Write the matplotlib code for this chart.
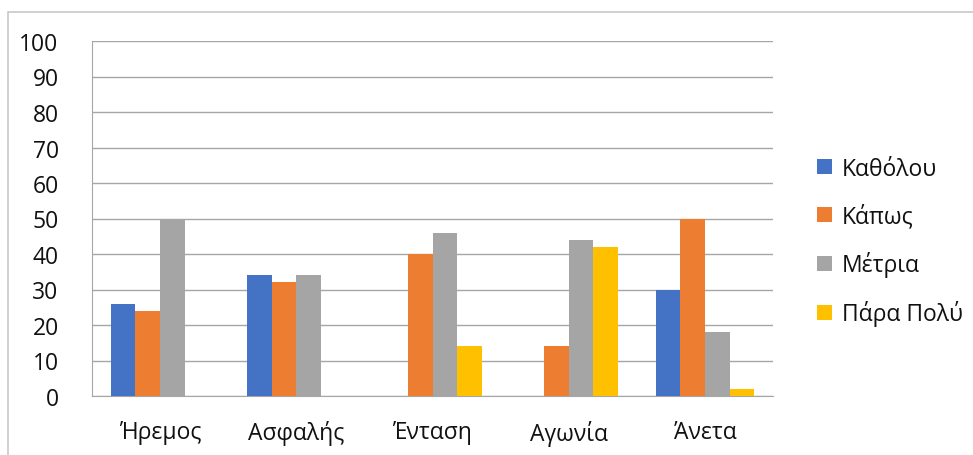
import numpy as np
import matplotlib.pyplot as plt
from matplotlib.patches import Rectangle

categories = ['Ήρεμος', 'Ασφαλής', 'Ένταση', 'Αγωνία', 'Άνετα']
series_names = ['Καθόλου', 'Κάπως', 'Μέτρια', 'Πάρα Πολύ']
katholou = [26, 34, 0, 0, 30]
kapos = [24, 32, 40, 14, 50]
metria = [50, 34, 46, 44, 18]
para_poly = [0, 0, 14, 42, 2]
colors = ['#4472C4', '#ED7D31', '#A5A5A5', '#FFC000']

plt.rcParams['font.family'] = ['Open Sans', 'DejaVu Sans']

fig = plt.figure(figsize=(9.73, 4.56), dpi=100)
# outer chart frame
fig.patches.append(Rectangle((8 / 973, -0.1), 1.2, 1 - 13 / 456 + 0.1,
                             transform=fig.transFigure, fill=False,
                             edgecolor='#C8C8C8', linewidth=1.2))

ax = fig.add_axes([92 / 973, 1 - 397 / 456, 681 / 973, 355 / 456])

x = np.arange(len(categories))
w = 0.181
data = [katholou, kapos, metria, para_poly]
for i, vals in enumerate(data):
    ax.bar(x + (i - 1.5) * w, vals, width=w, color=colors[i],
           label=series_names[i], zorder=3)

ax.set_xlim(-0.5, len(categories) - 0.5)
ax.set_ylim(0, 100)
ax.set_yticks(np.arange(0, 101, 10))
ax.set_xticks(x)
ax.set_xticklabels(categories)
ax.yaxis.grid(True, color='#A6A6A6', linewidth=1.0, zorder=0)
ax.tick_params(axis='both', length=0, labelsize=16.5, colors='#111111')
ax.tick_params(axis='x', pad=17)
ax.tick_params(axis='y', pad=24)
for s in ['top', 'right']:
    ax.spines[s].set_visible(False)
ax.spines['left'].set_color('#A6A6A6')
ax.spines['bottom'].set_color('#A6A6A6')

leg = ax.legend(loc='center left', bbox_to_anchor=(1.035, 0.435), frameon=False,
                fontsize=16.5, handlelength=0.65, handleheight=0.65,
                handletextpad=0.4, labelspacing=1.0)
for t in leg.get_texts():
    t.set_color('#111111')

fig.savefig('out.png', dpi=100)
